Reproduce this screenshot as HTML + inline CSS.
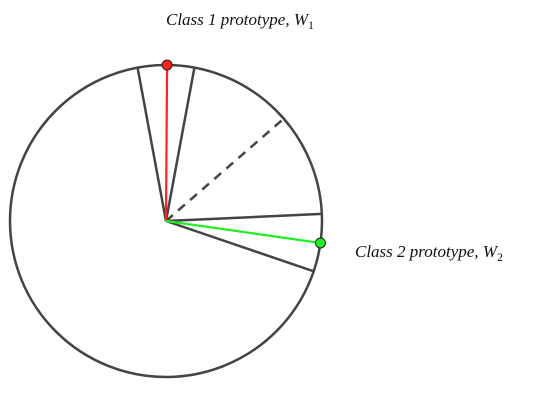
<!DOCTYPE html>
<html><head><meta charset="utf-8"><style>
html,body{margin:0;padding:0;background:#fff;width:555px;height:404px;overflow:hidden}
svg{display:block}
text{font-family:"Liberation Serif",serif;font-style:italic;font-size:17px;fill:#111}
</style></head><body>
<svg id="chart" width="555" height="404">
<circle cx="166" cy="221" r="156" fill="none" stroke="#444" stroke-width="2.5"/>
<g id="lines"></g>
<text x="166" y="25">Class 1 prototype, W<tspan font-size="12" dy="4" font-style="normal">1</tspan></text>
<text x="355" y="257">Class 2 prototype, W<tspan font-size="12" dy="4" font-style="normal">2</tspan></text>
</svg>
<script>
// angles in degrees, measured counter-clockwise from +x axis
const boundaryAngles = [100.5, 79.5, 2.6, -18.8];
const dashedAngles = [41];
const prototypeAngles = [89.6, -8.1];
const prototypeColors = ['#ff2020', '#22ee22'];
const cx = 166, cy = 221, R = 156;
const ns = 'http://www.w3.org/2000/svg';
const g = document.getElementById('lines');
function px(a, r){return cx + r*Math.cos(a*Math.PI/180);}
function py(a, r){return cy - r*Math.sin(a*Math.PI/180);}
function line(a, stroke, dash, w, rr){
  const l = document.createElementNS(ns,'line');
  l.setAttribute('x1',cx);l.setAttribute('y1',cy);
  l.setAttribute('x2',px(a,rr||R));l.setAttribute('y2',py(a,rr||R));
  l.setAttribute('stroke',stroke);l.setAttribute('stroke-width',w);
  if(dash) l.setAttribute('stroke-dasharray',dash);
  g.appendChild(l);return l;
}
boundaryAngles.forEach(a=>{
  const l=line(a,'#444',null,2.5);
  
  
});
dashedAngles.forEach(a=>{
  const l=line(a,'#444','9,7',2.5,153);
  
  
});
prototypeAngles.forEach((a,i)=>{
  const l=line(a,prototypeColors[i],null,2.2);
  
  
  const c=document.createElementNS(ns,'circle');
  c.setAttribute('cx',px(a,R));c.setAttribute('cy',py(a,R));c.setAttribute('r',5);
  c.setAttribute('fill',prototypeColors[i]);c.setAttribute('stroke','#222');c.setAttribute('stroke-width',1);
  
  
  g.appendChild(c);
});
</script>
</body></html>
